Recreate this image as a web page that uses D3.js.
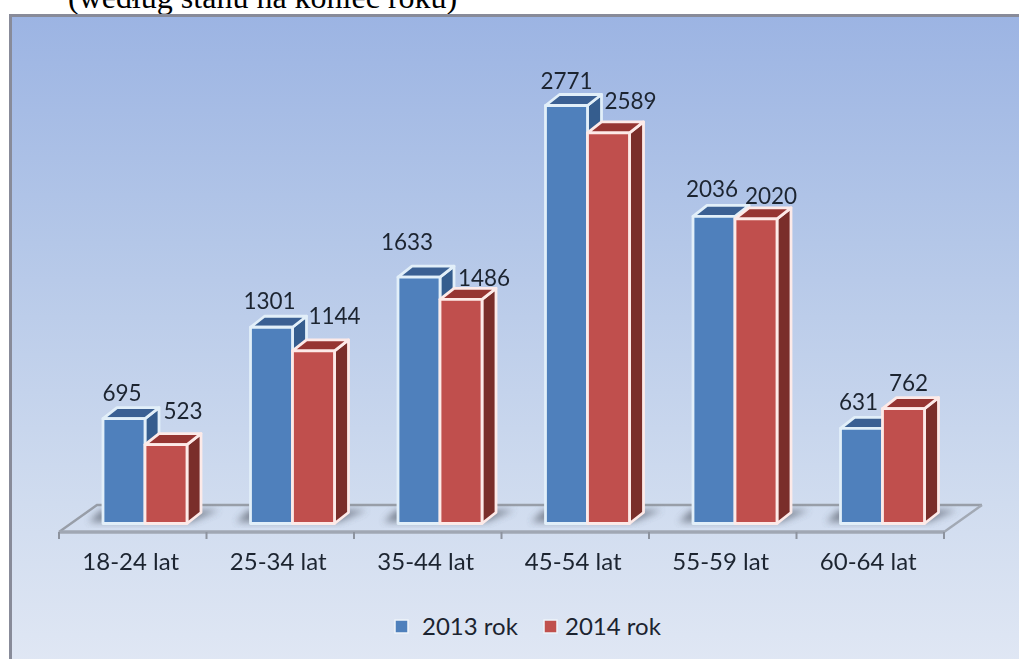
<!DOCTYPE html>
<html><head><meta charset="utf-8">
<script src="https://cdn.jsdelivr.net/npm/d3@7"></script>
<style>html,body{margin:0;padding:0;background:#fff;overflow:hidden}svg{display:block}</style>
</head><body><svg id="c" width="1019" height="659"></svg>
<script>
const categories = ["18-24 lat","25-34 lat","35-44 lat","45-54 lat","55-59 lat","60-64 lat"];
const series2013 = [695,1301,1633,2771,2036,631];
const series2014 = [523,1144,1486,2589,2020,762];
const seriesNames = ["2013 rok","2014 rok"];
const titleText = "(według stanu na koniec roku)";
const labelNudge2013 = [[-2,-15],[-2,-15],[-12,-24],[0,-14],[-2,-16],[-3,-15]];
const labelNudge2014 = [[17,-23],[21,-24],[23,-10],[22,-21],[15,-12],[5,-15]];

const svg = d3.select("#c");
const defs = svg.append("defs");
const bg = defs.append("linearGradient").attr("id","bg").attr("x1",0).attr("x2",0).attr("y1",0).attr("y2",1);
[[0,"#9cb4e3"],[0.35,"#b4c7e8"],[0.75,"#d0dcef"],[1,"#e0e7f4"]].forEach(s=>bg.append("stop").attr("offset",s[0]).attr("stop-color",s[1]));
defs.append("filter").attr("id","blur").attr("x","-30%").attr("width","160%").attr("y","-50%").attr("height","200%")
  .append("feGaussianBlur").attr("stdDeviation",3.5);
defs.append("filter").attr("id","soft").append("feGaussianBlur").attr("stdDeviation",0.5);

const font = "Lato, 'Open Sans', sans-serif", ink = "#1c2430";
svg.append("text").attr("x",68).attr("y",8).attr("font-family","'Liberation Serif',serif").attr("font-size",32).attr("fill","#000").text(titleText);
svg.append("rect").attr("x",10.5).attr("y",15.5).attr("width",1012).attr("height",650).attr("fill","url(#bg)").attr("stroke","#888b99").attr("stroke-width",3);

const x = d3.scaleBand().domain(categories).range([59,944]);
const y = d3.scaleLinear().domain([0,2771]).range([523.5,105.5]);
const barW = 42, gap = 44, depthX = 14, depthY = 11, floorFront = 532, floorBack = 505, floorDX = 38;

const g = svg.append("g").attr("filter","url(#soft)");
const line = d3.line();
g.append("path").attr("d",line([[59,floorFront],[59+floorDX,floorBack],[944+floorDX,floorBack]])).attr("fill","none").attr("stroke","#989ea8").attr("stroke-width",2.4);
g.append("path").attr("d",line([[944+floorDX,floorBack],[944,floorFront]])).attr("fill","none").attr("stroke","#a2a9b4").attr("stroke-width",2.4);
g.append("path").attr("d",line([[59,floorFront],[944,floorFront]])).attr("fill","none").attr("stroke","#a0a7b3").attr("stroke-width",3.4);
const ticks = categories.map(c=>x(c)).concat([944]);
g.selectAll(".tk").data(ticks).join("path").attr("d",t=>line([[t,floorFront],[t,539]])).attr("stroke","#8d939e").attr("stroke-width",2);

const cg = g.selectAll(".cat").data(categories).join("g");
cg.each(function(c){
  const x0 = x(c)+gap, s = d3.select(this);
  s.append("path").attr("filter","url(#blur)").attr("fill","#6a7280").attr("opacity",0.8)
    .attr("d",line([[x0-14,522],[x0-2,510],[x0+2*barW+depthX+18,510],[x0+2*barW+4,522]])+"Z");
});

function drawBar(par,x0,v,front,side,top,edge){
  const yt = y(v), yb = y(0), x1 = x0+barW;
  const sel = d3.select(par);
  const add = (pts,fill)=>sel.append("path").attr("d",line(pts)+"Z").attr("fill",fill)
    .attr("stroke",edge).attr("stroke-width",2.8).attr("stroke-linejoin","round");
  add([[x1,yt],[x1+depthX,yt-depthY],[x1+depthX,yb-depthY],[x1,yb]],side);
  add([[x0,yt],[x0+depthX,yt-depthY],[x1+depthX,yt-depthY],[x1,yt]],top);
  add([[x0,yt],[x1,yt],[x1,yb],[x0,yb]],front);
}
cg.each(function(c,i){
  const x0 = x(c)+gap;
  drawBar(this,x0,series2013[i],"#4f80bc","#355d8e","#3a6193","#e2eff9");
  drawBar(this,x0+barW,series2014[i],"#c0504d","#7a2e2c","#963533","#fdeae8");
});

const lab = (vals,nudge,off)=>svg.selectAll(".l"+off).data(vals).join("text")
  .attr("class","l"+off)
  .attr("x",(v,i)=>x(categories[i])+gap+off+barW/2+nudge[i][0])
  .attr("y",(v,i)=>y(v)-depthY+nudge[i][1]+8)
  .attr("text-anchor","middle").attr("font-family",font).attr("font-size",22.5).attr("fill",ink).text(v=>v);
lab(series2013,labelNudge2013,0);
lab(series2014,labelNudge2014,barW);

const axis = svg.append("g").attr("transform","translate(0,539)").call(d3.axisBottom(x).tickSize(0).tickPadding(14));
axis.select(".domain").remove();
axis.selectAll("text").attr("font-family",font).attr("font-size",24).attr("fill",ink).attr("dx",-2);

const legendX = [395,544], legendTextX = [422,565], legendColors = ["#4f80bc","#c0504d"];
seriesNames.forEach((n,i)=>{
  svg.append("rect").attr("x",legendX[i]).attr("y",620).attr("width",13).attr("height",13).attr("fill",legendColors[i]).attr("stroke","#eef3fa").attr("stroke-width",1.5);
  svg.append("text").attr("x",legendTextX[i]).attr("y",635).attr("font-family",font).attr("font-size",24).attr("fill",ink).text(n);
});
</script></body></html>
